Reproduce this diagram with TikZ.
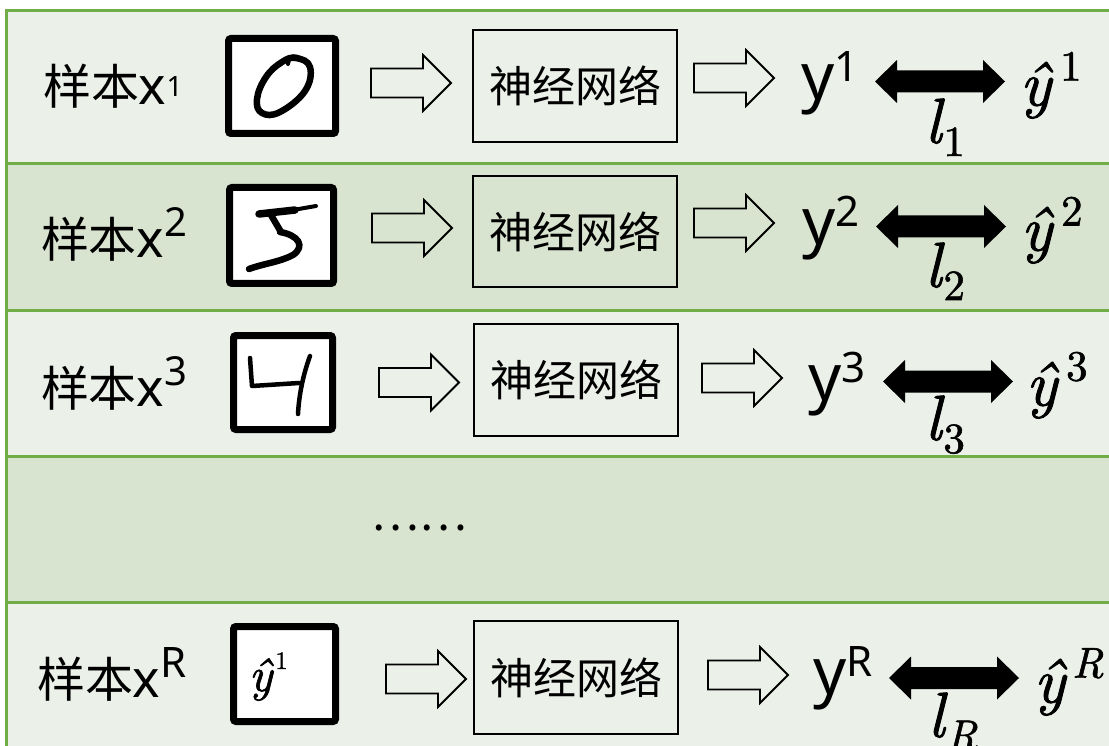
\documentclass[tikz,border=0pt]{standalone}
\usepackage{fontspec}
\newfontfamily\cjk{Noto Sans CJK SC}
\newfontfamily\lat{Noto Sans}
\newfontfamily\mth[ItalicFont=lmroman10-italic.otf, FakeBold=1.3]{lmroman10-regular.otf}
\definecolor{bandlight}{HTML}{EBF0E9}
\definecolor{banddark}{HTML}{D8E4CF}
\definecolor{tblgreen}{HTML}{70AD47}
\newcommand{\fsz}[1]{\fontsize{#1}{#1}\selectfont}
\newcommand{\samplab}[3]{{\cjk 样本}{\lat\fsz{52}x}\raisebox{#2pt}{\lat\fsz{#3}#1}}
\newcommand{\outlab}[1]{{\lat\fsz{65}y\raisebox{18pt}{\fsz{42}#1}}}
\newcommand{\tgtlab}[2]{{\mth\fsz{64}\itshape\^{y}}\kern#2pt\raisebox{25pt}{\mth\fsz{43}#1}}
\newcommand{\losslab}[1]{{\mth\fsz{64}\itshape l}\kern2pt\raisebox{-13pt}{\mth\fsz{43}#1}}
\tikzset{
  lbl/.style={anchor=base west, inner sep=0pt, outer sep=0pt},
  samp/.style={lbl, font=\fsz{48}},
  imgbox/.style={draw=black, line width=7pt, fill=white, rounded corners=2.5pt, inner sep=0pt},
  nnbox/.style={draw=black, line width=2pt, inner sep=0pt, minimum width=204pt, font=\cjk\fsz{43}},
  digit/.style={line width=6.5pt, line cap=round, line join=round},
  grid/.style={draw=tblgreen, line width=3pt},
  pics/hollowarrow/.style={code={
    \draw[line width=1.8pt, line join=miter] (0,-14.5) -- (52,-14.5) -- (52,-28) -- (80,0) -- (52,28) -- (52,14.5) -- (0,14.5) -- cycle;}},
  pics/dblarrow/.style={code={
    \fill[black] (0,0) -- (22,-21.5) -- (22,-11) -- (108,-11) -- (108,-21.5) -- (130,0) -- (108,21.5) -- (108,11) -- (22,11) -- (22,21.5) -- cycle;}},
}
\begin{document}
\begin{tikzpicture}[x=1pt, y=-1pt]
\useasboundingbox (0,0) rectangle (1109,746);
\clip (0,0) rectangle (1109,746);
% bands
\fill[white] (0,0) rectangle (1109,746);
\fill[bandlight] (6.5,11) rectangle (1120,163.5);
\fill[banddark]  (6.5,163.5) rectangle (1120,310.5);
\fill[bandlight] (6.5,310.5) rectangle (1120,456);
\fill[banddark]  (6.5,456) rectangle (1120,602.5);
\fill[bandlight] (6.5,602.5) rectangle (1120,760);
\foreach \yy in {11,163.5,310.5,456,602.5} \draw[grid] (5,\yy) -- (1120,\yy);
\draw[grid] (6.5,9.5) -- (6.5,760);

% ---- row 1
\node[samp] (s1) at (43,105) {\samplab{1}{8}{28}};
\node[imgbox, minimum width=107pt, minimum height=95pt] (img1) at (282,86) {};
\draw[digit] plot[smooth cycle, tension=0.7] coordinates {(296,58) (310,67) (305,91) (280,112) (262,113) (257,99) (266,77) (282,62)};
\draw[line width=4pt, line cap=round] (288,64) .. controls (289,55) and (297,54) .. (301,60);
\pic at (371,83) {hollowarrow};
\node[nnbox, minimum height=112pt] (nn1) at (575,86) {神经网络};
\pic at (694,78) {hollowarrow};
\node[lbl] (o1) at (801,100) {\outlab{1}};
\pic at (875,81.5) {dblarrow};
\node[lbl] (l1) at (925,143) {\losslab{1}};
\node[lbl] (t1) at (1020,105.5) {\tgtlab{1}{9}};

% ---- row 2
\node[samp] (s2) at (41,258) {\samplab{2}{21}{40}};
\node[imgbox, minimum width=104pt, minimum height=96pt] (img2) at (281.5,235.5) {};
\draw[line width=7.5pt, line cap=round] (259,214) -- (295,210);
\draw[line width=4pt, line cap=round] (293,210) -- (316,206);
\draw[digit] (271,215) -- (281,232);
\draw[digit] (280,232) .. controls (298,235) and (306,246) .. (293,255) .. controls (280,262) and (262,264) .. (249,269);
\pic at (372,228) {hollowarrow};
\node[nnbox, minimum height=111pt] (nn2) at (575,231.5) {神经网络};
\pic at (694,223) {hollowarrow};
\node[lbl] (o2) at (802,245) {\outlab{2}};
\pic at (876,226.5) {dblarrow};
\node[lbl] (l2) at (925,287) {\losslab{2}};
\node[lbl] (t2) at (1021,250.5) {\tgtlab{2}{9}};

% ---- row 3
\node[samp] (s3) at (41,406) {\samplab{3}{21}{40}};
\node[imgbox, minimum width=99pt, minimum height=94pt] (img3) at (283,382.5) {};
\draw[line width=4.5pt, line cap=round, line join=round] (250,358) -- (252,386) -- (299,383);
\draw[line width=4.5pt, line cap=round] (310,356) .. controls (303,375) and (299,395) .. (298,414);
\pic at (379,382.5) {hollowarrow};
\node[nnbox, minimum height=112pt] (nn3) at (576,380) {神经网络};
\pic at (702,378) {hollowarrow};
\node[lbl] (o3) at (808,400) {\outlab{3}};
\pic at (883,381.5) {dblarrow};
\node[lbl] (l3) at (925,440) {\losslab{3}};
\node[lbl] (t3) at (1026,405.5) {\tgtlab{3}{9}};

% ---- row 4
\node[font=\cjk\fsz{45}, inner sep=0pt] (dots) at (419.5,528) {……};

% ---- row 5
\node[samp] (s5) at (37,697) {\samplab{R}{20}{42}};
\node[imgbox, minimum width=102pt, minimum height=95pt] (img5) at (284.5,674) {};
\node[lbl] (in5) at (249,691) {{\mth\fsz{48}\itshape\^{y}}\kern3pt\raisebox{22pt}{\mth\fsz{25}1}};
\pic at (386,679) {hollowarrow};
\node[nnbox, minimum height=113pt] (nn5) at (576,677.5) {神经网络};
\pic at (708,675) {hollowarrow};
\node[lbl] (o5) at (813,694) {\outlab{R}};
\pic at (889,678) {dblarrow};
\node[lbl] (l5) at (928,737) {\losslab{\itshape R}};
\node[lbl] (t5) at (1034,702.5) {\tgtlab{\itshape R}{7}};
\end{tikzpicture}
\end{document}
